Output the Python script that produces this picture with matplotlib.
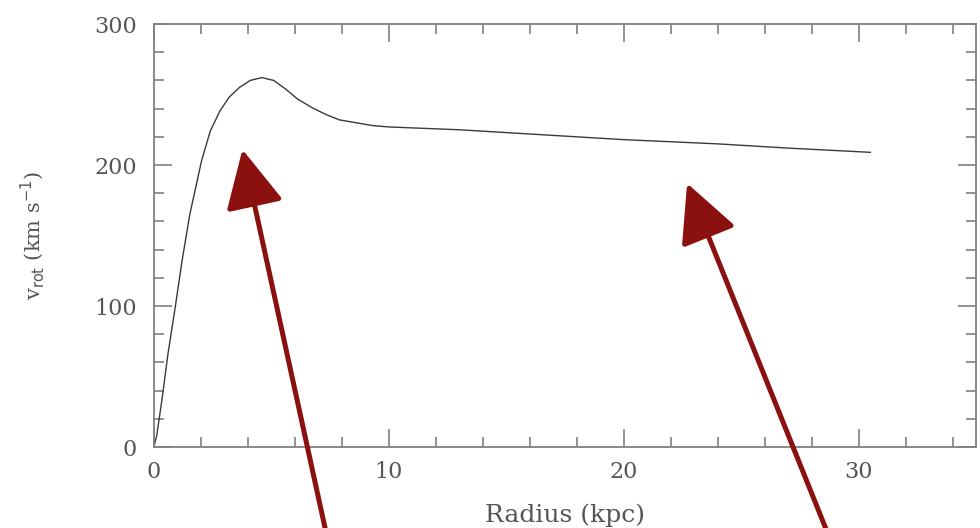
import numpy as np
import matplotlib
matplotlib.use('Agg')
import matplotlib.pyplot as plt
from matplotlib.ticker import MultipleLocator

# rotation curve
radius = [0, 0.12, 0.34, 0.6, 0.89, 1.2, 1.53, 2.03, 2.4, 2.8, 3.2, 3.64, 4.1, 4.6,
          5.1, 5.6, 6.1, 6.7, 7.3, 7.9, 8.6, 9.3, 10, 13, 16, 20, 24, 27, 30.5]
vrot = [0, 8, 33, 66, 97, 132, 165, 203, 224, 238, 248, 255, 260, 262,
        260, 254, 247, 241, 236, 232, 230, 228, 227, 225, 222, 218, 215, 212, 209]

# arrows: (tip, tail) in data units
arrow_tips = [(3.77, 211), (22.7, 187)]
arrow_tails = [(7.4, -66), (28.8, -66)]

plt.rcParams['font.family'] = 'DejaVu Serif'
txt_col = '#555555'
ax_col = '#808080'

fig = plt.figure(figsize=(9.8, 5.28), dpi=100)
ax = fig.add_axes([0.157, 0.1534, 0.839, 0.8011])

ax.plot(radius, vrot, color='#3a3a3a', lw=1.0)

ax.set_xlim(0, 35)
ax.set_ylim(0, 300)
ax.xaxis.set_major_locator(MultipleLocator(10))
ax.xaxis.set_minor_locator(MultipleLocator(2))
ax.yaxis.set_major_locator(MultipleLocator(100))
ax.yaxis.set_minor_locator(MultipleLocator(20))
ax.tick_params(which='both', direction='in', top=True, right=True,
               color=ax_col, labelcolor=txt_col, labelsize=16, width=1.2)
ax.tick_params(axis='x', which='major', length=13, pad=10)
ax.tick_params(axis='y', which='major', length=13, pad=12)
ax.tick_params(which='minor', length=7)
for s in ax.spines.values():
    s.set_color(ax_col)
    s.set_linewidth(1.3)

ax.set_xlabel('Radius (kpc)', fontsize=18, color=txt_col, labelpad=15)
ax.set_ylabel(r'v$_{\rm rot}$ (km s$^{-1}$)', fontsize=15, color=txt_col, labelpad=34)

for tip, tail in zip(arrow_tips, arrow_tails):
    ax.annotate('', xy=tip, xytext=tail, annotation_clip=False,
                arrowprops=dict(arrowstyle='-|>,head_length=2.0,head_width=1.0',
                                mutation_scale=18, lw=3.6, color='#8b1010',
                                shrinkA=0, shrinkB=0))

plt.savefig('out.png', dpi=100)
